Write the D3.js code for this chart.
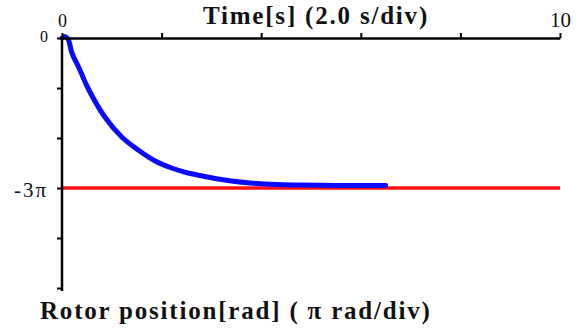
<!DOCTYPE html>
<html>
<head>
<meta charset="utf-8">
<script src="https://cdn.jsdelivr.net/npm/d3@7"></script>
<style>
  body { margin: 0; background: #fff; }
  svg { display: block; }
</style>
</head>
<body>
<svg id="chart"></svg>
<script>
// rotor position step response, position in units of pi

var timeTicks = [0, 2, 4, 6, 8, 10];
var timeLabels = {0: "0", 10: "10"};
var posTicks = [0, -1, -2, -3, -4, -5];
var posLabels = {0: "0", "-3": "-3\u03c0"};

var respTime = [0, 0.05, 0.12, 0.2, 0.36, 0.52, 0.86, 1.2, 1.53, 1.87, 2.2, 2.53, 2.77, 3.07, 3.4, 3.78, 4.3, 4.78, 5.5, 6.5];
var respPos = [0, 0.03, -0.02, -0.3, -0.64, -1.0, -1.58, -1.98, -2.24, -2.46, -2.6, -2.7, -2.75, -2.81, -2.86, -2.9, -2.93, -2.94, -2.95, -2.95];

var strayTime = [0, 0];
var strayPos = [-0.05, -0.48];

var refTime = [0, 10];
var refPos = [-3, -3];

// label sizes differ a bit in the scanned original
var labelSize = {"0x": 18, "10x": 21, "0y": 16, "-3y": 21};

var serif = "'Liberation Serif', 'DejaVu Serif', serif";
var width = 583, height = 328;

var svg = d3.select('#chart')
    .attr("width", width)
    .attr("height", height);

var x = d3.scaleLinear().domain([0, 10]).range([62, 560]);
var y = d3.scaleLinear().domain([0, -5]).range([38, 288]);

var line = d3.line()
    .x(function(d) { return x(d[0]); })
    .y(function(d) { return y(d[1]); });

// reference line
svg.append("path")
    .datum(d3.zip(refTime, refPos))
    .attr("d", line)
    .attr("fill", "none")
    .attr("stroke", "#ff1010")
    .attr("stroke-width", 3.5);

// response curve
svg.append("path")
    .datum(d3.zip(strayTime, strayPos))
    .attr("d", line)
    .attr("fill", "none")
    .attr("stroke", "#2a2aff")
    .attr("stroke-width", 2);

svg.append("path")
    .datum(d3.zip(respTime, respPos))
    .attr("d", line.curve(d3.curveCatmullRom.alpha(0.5)))
    .attr("fill", "none")
    .attr("stroke", "#0a0aff")
    .attr("stroke-width", 5)
    .attr("stroke-linecap", "round")
    .attr("stroke-linejoin", "round");

// axes
var xAxis = d3.axisTop(x)
    .tickValues(timeTicks)
    .tickSize(5)
    .tickPadding(6)
    .tickSizeOuter(0)
    .tickFormat(function(d) { return timeLabels[d] || ""; });

var yAxis = d3.axisLeft(y)
    .tickValues(posTicks)
    .tickSize(5)
    .tickPadding(9)
    .tickSizeOuter(0)
    .tickFormat(function(d) { return posLabels[d] || ""; });

var gx = svg.append("g")
    .attr("transform", "translate(0," + y(0) + ")")
    .call(xAxis);

var gy = svg.append("g")
    .attr("transform", "translate(" + x(0) + ",0)")
    .call(yAxis);

[[gx, "x"], [gy, "y"]].forEach(function(p) {
  var g = p[0];
  g.attr("font-family", serif);
  g.select(".domain").attr("stroke", "#000").attr("stroke-width", 2.5);
  g.selectAll(".tick line").attr("stroke", "#000").attr("stroke-width", 2);
  g.selectAll(".tick text")
    .attr("font-family", serif)
    .attr("font-size", function(d) { return labelSize[d + p[1]] || 18; })
    .attr("fill", "#111");
});
gy.selectAll(".tick text").attr("dy", function(d) { return d === 0 ? "0.2em" : "0.4em"; });
gy.selectAll(".tick text").filter(function(d) { return d === -3; }).attr("letter-spacing", "2px");
gy.select(".domain").attr("d", "M0," + y(0) + "V" + 291);

// titles
svg.append("text")
    .attr("x", 316)
    .attr("y", 24)
    .attr("text-anchor", "middle")
    .attr("font-family", serif)
    .attr("font-weight", "bold")
    .attr("font-size", 25)
    .attr("letter-spacing", "1.8px")
    .attr("fill", "#111")
    .text("Time[s] (2.0 s/div)");

svg.append("text")
    .attr("x", 40)
    .attr("y", 319)
    .attr("font-family", serif)
    .attr("font-weight", "bold")
    .attr("font-size", 25)
    .attr("letter-spacing", "1.8px")
    .attr("fill", "#111")
    .text("Rotor position[rad] ( \u03c0 rad/div)");
</script>
</body>
</html>
